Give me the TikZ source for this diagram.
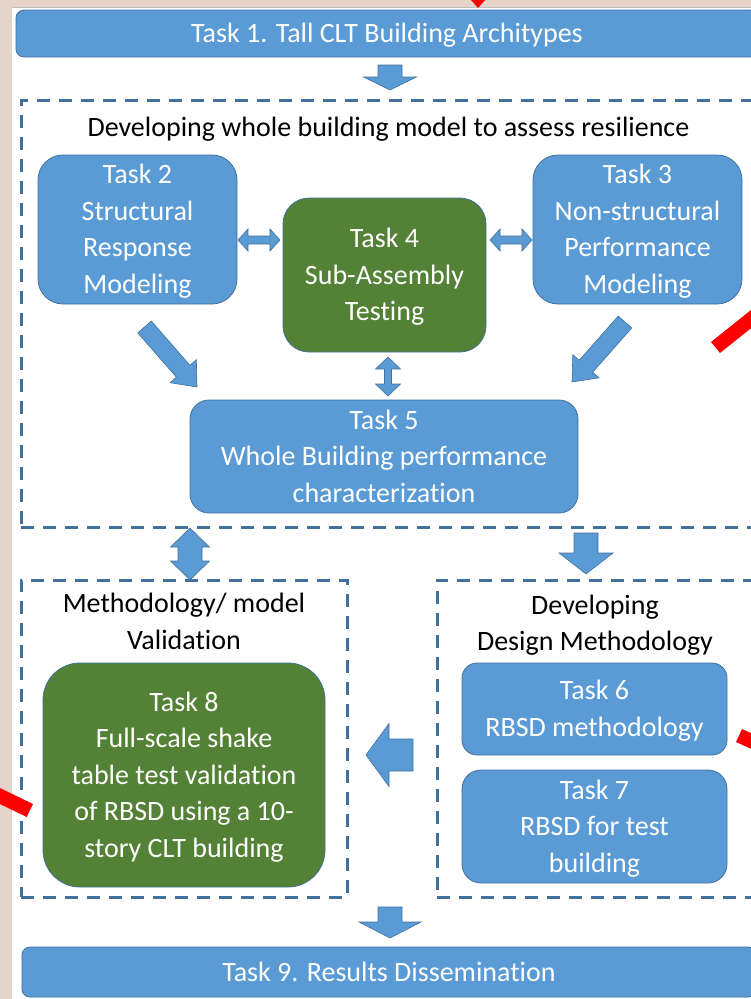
\documentclass[tikz,border=0pt]{standalone}
\usepackage{fontspec}
\setmainfont{Carlito}[Ligatures=NoCommon]
\usetikzlibrary{calc}

\definecolor{officeblue}{HTML}{5B9BD5}
\definecolor{edgeblue}{HTML}{41719C}
\definecolor{taskgreen}{HTML}{538135}
\definecolor{slidebg}{HTML}{E4D4CB}
\definecolor{markred}{HTML}{FF0000}

\newcommand{\tasksize}{\fontsize{28}{36.5}\selectfont}
% fixed top and bottom struts so every text block is centred on its lines
\newcommand{\topstrut}{\rule{0pt}{26pt}}
\newcommand{\botstrut}{\rule[-8pt]{0pt}{8pt}}
\newcommand{\lines}[1]{\topstrut#1\botstrut}

\tikzset{
  textblock/.style={align=center, inner sep=0pt, font=\tasksize},
  task/.style={textblock, draw=edgeblue, line width=0.8pt, fill=officeblue,
               text=white},
  greentask/.style={task, fill=taskgreen},
  group/.style={draw=edgeblue, line width=3pt, dash pattern=on 13pt off 9pt,
                inner sep=0pt},
  heading/.style={textblock, text=black},
  blockarrow/.style={draw=edgeblue, line width=0.6pt, fill=officeblue},
  redmark/.style={fill=markred},
}

% single block arrow: from, to, shaft half width, head half width, head length
\newcommand{\singlearrow}[5]{%
  \draw[blockarrow] let \p1=(#1), \p2=(#2),
      \n1={atan2(\y2-\y1,\x2-\x1)}, \n2={veclen(\x2-\x1,\y2-\y1)-#5} in
    ($(\p1)+({\n1+90}:#3pt)$)
    -- ($(\p1)+(\n1:\n2)+({\n1+90}:#3pt)$)
    -- ($(\p1)+(\n1:\n2)+({\n1+90}:#4pt)$)
    -- (\p2)
    -- ($(\p1)+(\n1:\n2)+({\n1-90}:#4pt)$)
    -- ($(\p1)+(\n1:\n2)+({\n1-90}:#3pt)$)
    -- ($(\p1)+({\n1-90}:#3pt)$) -- cycle;}

% double block arrow: end, end, shaft half width, head half width, head length
\newcommand{\doublearrow}[5]{%
  \draw[blockarrow] let \p1=(#1), \p2=(#2),
      \n1={atan2(\y2-\y1,\x2-\x1)}, \n2={veclen(\x2-\x1,\y2-\y1)-#5} in
    (\p1)
    -- ($(\p1)+(\n1:#5pt)+({\n1+90}:#4pt)$)
    -- ($(\p1)+(\n1:#5pt)+({\n1+90}:#3pt)$)
    -- ($(\p1)+(\n1:\n2)+({\n1+90}:#3pt)$)
    -- ($(\p1)+(\n1:\n2)+({\n1+90}:#4pt)$)
    -- (\p2)
    -- ($(\p1)+(\n1:\n2)+({\n1-90}:#4pt)$)
    -- ($(\p1)+(\n1:\n2)+({\n1-90}:#3pt)$)
    -- ($(\p1)+(\n1:#5pt)+({\n1-90}:#3pt)$)
    -- ($(\p1)+(\n1:#5pt)+({\n1-90}:#4pt)$) -- cycle;}

\begin{document}
\begin{tikzpicture}[x=1pt, y=-1pt]
\useasboundingbox (0,0) rectangle (751,999);
\clip (0,0) rectangle (751,999);

% slide background and white sheet
\fill[slidebg] (0,0) rectangle (751,999);
\fill[white] (12,7) rectangle (751,999);
\draw[black!25, line width=1pt] (12,7) -- (751,7);

% dashed groups
\node[group, minimum width=769pt, minimum height=427pt] (g1) at (405.5,313.5) {};
\node[group, minimum width=326pt, minimum height=317pt] (g2) at (184,738.5) {};
\node[group, minimum width=353pt, minimum height=317pt] (g3) at (613.5,738.5) {};

% headings
\node[heading] (h1) at (388.5,127) {\lines{Developing whole building model to assess resilience}};
\node[heading] (h2) at (184,622) {\lines{Methodology/ model\\Validation}};
\node[heading] (h3) at (595,623.5) {\lines{Developing\\Design Methodology}};

% tasks
\node[task, rounded corners=8pt, minimum width=742pt, minimum height=47pt]
  (t1) at (387,33.5) {\lines{Task 1. Tall CLT Building Architypes}};
\node[task, rounded corners=25pt, minimum width=199pt, minimum height=149pt]
  (t2) at (137.5,229.5) {\lines{Task 2\\Structural\\Response\\Modeling}};
\node[greentask, rounded corners=26pt, minimum width=203pt, minimum height=154pt]
  (t4) at (384.5,275) {\lines{Task 4\\Sub-Assembly\\Testing}};
\node[task, rounded corners=25pt, minimum width=209pt, minimum height=149pt]
  (t3) at (637.5,229.5) {\lines{Task 3\\Non-structural\\Performance\\Modeling}};
\node[task, rounded corners=19pt, minimum width=388pt, minimum height=113pt]
  (t5) at (384,456.5) {\lines{Task 5\\Whole Building performance\\characterization}};
\node[greentask, rounded corners=37pt, minimum width=282pt, minimum height=224pt]
  (t8) at (184,775) {\lines{Task 8\\Full-scale shake\\table test validation\\of RBSD using a 10-\\story CLT building}};
\node[task, rounded corners=15pt, minimum width=265pt, minimum height=92pt]
  (t6) at (594.5,709) {\lines{Task 6\\RBSD methodology}};
\node[task, rounded corners=19pt, minimum width=265pt, minimum height=113pt]
  (t7) at (594.5,826.5) {\lines{Task 7\\RBSD for test\\building}};
\node[task, rounded corners=8pt, minimum width=734pt, minimum height=50pt]
  (t9) at (389,972) {\lines{Task 9. Results Dissemination}};

% arrow end points
\coordinate (a1s) at (390,65);   \coordinate (a1e) at (390,90);
\coordinate (a2s) at (238,240);  \coordinate (a2e) at (280,240);
\coordinate (a3s) at (490,240);  \coordinate (a3e) at (532,240);
\coordinate (a4s) at (388,357);  \coordinate (a4e) at (388,396);
\coordinate (a5s) at (144.5,327); \coordinate (a5e) at (197,387);
\coordinate (a6s) at (625,322);  \coordinate (a6e) at (572,382);
\coordinate (a7s) at (190,528);  \coordinate (a7e) at (190,580);
\coordinate (a8s) at (586,533);  \coordinate (a8e) at (586,574);
\coordinate (a9s) at (413,755);  \coordinate (a9e) at (366,755);
\coordinate (a10s) at (390,907); \coordinate (a10e) at (390,938);

% block arrows
\singlearrow{a1s}{a1e}{12}{26.5}{13}
\doublearrow{a2s}{a2e}{4}{11}{10}
\doublearrow{a3s}{a3e}{4}{11}{10}
\doublearrow{a4s}{a4e}{3.5}{12.5}{12}
\singlearrow{a5s}{a5e}{9}{17.5}{21}
\singlearrow{a6s}{a6e}{9}{17.5}{21}
\doublearrow{a7s}{a7e}{12}{19.5}{19}
\singlearrow{a8s}{a8e}{12}{27}{21}
\singlearrow{a9s}{a9e}{16}{31.5}{23}
\singlearrow{a10s}{a10e}{12}{31}{16}

% red pointer marks along the edges
\fill[redmark] (471,0) -- (485,0) -- (478,8) -- cycle;
\fill[redmark] (711,342) -- (720,353) -- (780,305) -- (771,294) -- cycle;
\fill[redmark] (-30,773.5) -- (33,804) -- (26.7,817) -- (-30,789.5) -- cycle;
\fill[redmark] (742,729) -- (736,742) -- (780,762) -- (786,749) -- cycle;
\end{tikzpicture}
\end{document}
